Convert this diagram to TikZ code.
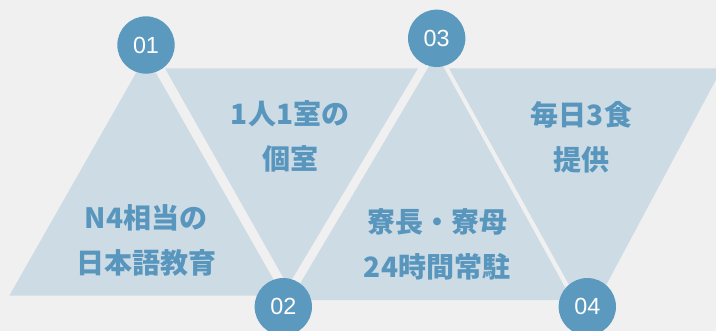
\documentclass[tikz,border=0pt]{standalone}
\usepackage{fontspec}
\newfontfamily\jpfont{Noto Sans CJK JP}
\newfontfamily\numfont{Liberation Sans}
\definecolor{bggray}{RGB}{240,240,240}
\definecolor{panelblue}{RGB}{205,219,228}
\definecolor{dotblue}{RGB}{91,153,190}
\definecolor{labelblue}{RGB}{88,150,190}

\begin{document}
\begin{tikzpicture}[x=0.75pt,y=0.75pt,yscale=-1,xscale=1,
  dot/.style={circle,fill=dotblue,minimum size=43pt,inner sep=0pt,text=white,font=\numfont\fontsize{17.5}{17.5}\selectfont},
  label text/.style={align=center,text=labelblue,font=\jpfont\bfseries\fontsize{21}{34}\selectfont}]
\useasboundingbox (0,0) rectangle (716,331);
\clip (0,0) rectangle (716,331);
\fill[bggray] (0,0) rectangle (716,331);

%Shape: Triangle [id:up01] 
\fill[panelblue] (9.3,295.7) -- (146,55.4) -- (282.7,295.7) -- cycle ;
%Shape: Triangle [id:down02] 
\fill[panelblue] (165,68.3) -- (418,68.3) -- (288,286) -- cycle ;
%Shape: Triangle [id:up03] 
\fill[panelblue] (290.4,300) -- (436.3,54) -- (572,300) -- cycle ;
%Shape: Triangle [id:down04] 
\fill[panelblue] (449,68.3) -- (722,68.3) -- (588,319) -- cycle ;

% Circles
\draw (146,45) node [dot] (n01) {01};
\draw (283.3,306.7) node [dot] (n02) {02};
\draw (436.7,38.3) node [dot] (n03) {03};
\draw (587.3,306.7) node [dot] (n04) {04};

% Text Node
\draw (146,240.5) node [label text] (t01) {N4相当の\\日本語教育};
% Text Node
\draw (290,136.5) node [label text] (t02) {1人1室の\\個室};
% Text Node
\draw (437,244.5) node [label text] (t03) {寮長・寮母\\24時間常駐};
% Text Node
\draw (581.5,137.5) node [label text] (t04) {毎日3食\\提供};

\end{tikzpicture}
\end{document}
